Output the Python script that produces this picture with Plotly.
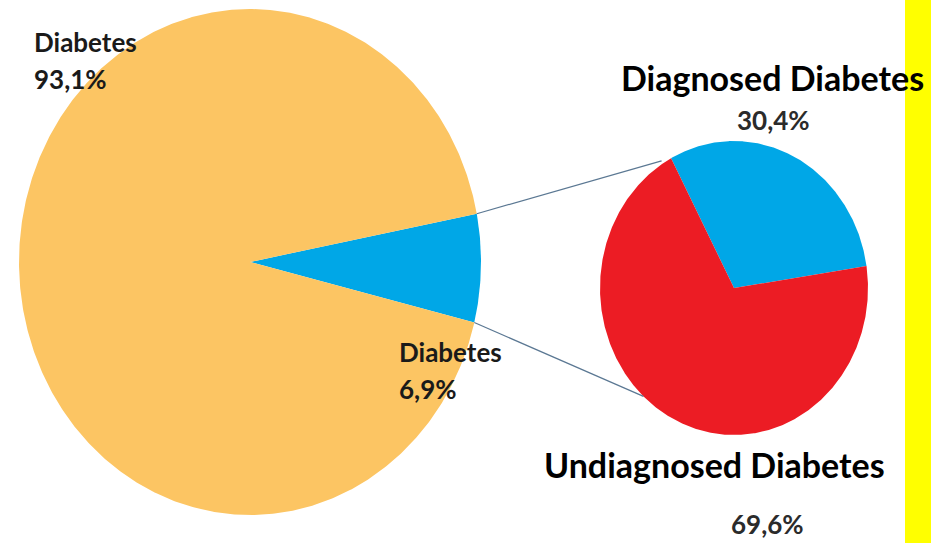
import math
import plotly.graph_objects as go

# Overall population split
main_labels = ["Diabetes", "Diabetes"]
main_values = [6.9, 93.1]          # share with diabetes, rest of population
main_colors = ["#00A7E7", "#FCC563"]

# Breakdown of the 6.9% slice
sub_labels = ["Diagnosed Diabetes", "Undiagnosed Diabetes"]
sub_values = [30.4, 69.6]
sub_colors = ["#00A7E7", "#EC1C24"]

W, H = 931, 543

# Pie geometry in pixel space: centre, horizontal and vertical radii, start angle
MAIN = dict(cx=250, cy=262, rx=231, ry=253, rot=79)
SUB = dict(cx=734, cy=288, rx=134, ry=147, rot=-28)


def pt(p, ang, scale=1.0):
    """Point on a pie outline; ang measured clockwise from 12 o'clock, degrees."""
    a = math.radians(ang)
    return (p["cx"] + scale * p["rx"] * math.sin(a),
            p["cy"] - scale * p["ry"] * math.cos(a))


def slices(p, values):
    total = sum(values)
    start = p["rot"]
    out = []
    for v in values:
        span = v / total * 360
        n = max(4, int(span * 2))
        xs, ys = [p["cx"]], [p["cy"]]
        for i in range(n + 1):
            x, y = pt(p, start + span * i / n)
            xs.append(x)
            ys.append(y)
        xs.append(p["cx"])
        ys.append(p["cy"])
        out.append((xs, ys, start, start + span))
        start += span
    return out


fig = go.Figure()

main_sl = slices(MAIN, main_values)
sub_sl = slices(SUB, sub_values)

for (xs, ys, _, _), lab, col, val in zip(main_sl, main_labels, main_colors, main_values):
    fig.add_trace(go.Scatter(x=xs, y=ys, mode="lines", fill="toself",
                             fillcolor=col, line=dict(width=0, color=col),
                             name=f"{lab} {val}%", hoveron="fills",
                             showlegend=False))

for (xs, ys, _, _), lab, col, val in zip(sub_sl, sub_labels, sub_colors, sub_values):
    fig.add_trace(go.Scatter(x=xs, y=ys, mode="lines", fill="toself",
                             fillcolor=col, line=dict(width=0, color=col),
                             name=f"{lab} {val}%", hoveron="fills",
                             showlegend=False))

# Connector lines from the highlighted slice to the breakdown pie
_, _, a_top, a_bot = main_sl[0]
p1 = pt(MAIN, a_top)
p2 = pt(MAIN, a_bot)
q1 = pt(SUB, SUB["rot"] - 4, 1.02)
q2 = pt(SUB, 222.5)
for a, b in [(p1, q1), (p2, q2)]:
    fig.add_trace(go.Scatter(x=[a[0], b[0]], y=[a[1], b[1]], mode="lines",
                             line=dict(color="#5B7893", width=1.2),
                             hoverinfo="skip", showlegend=False))

# Yellow band on the right edge
shapes = [dict(type="rect", xref="paper", yref="paper",
               x0=905 / W, x1=1, y0=0, y1=1,
               fillcolor="#FFFF00", line=dict(width=0), layer="below")]


def fmt(v):
    return f"{v:.1f}".replace(".", ",") + "%"


FONT = "Lato"
annotations = []


def note(text, x, y, size, color="#1a1a1a", xanchor="left"):
    annotations.append(dict(text=f"<b>{text}</b>", x=x, y=y, xref="x", yref="y",
                            xanchor=xanchor, yanchor="middle", showarrow=False,
                            align="left",
                            font=dict(family=FONT, size=size, color=color)))


note(main_labels[1], 32, 42, 26)
note(fmt(main_values[1]), 32, 79, 26)
note(main_labels[0], 397, 352, 26)
note(fmt(main_values[0]), 397, 389, 26)
note(sub_labels[0], 772, 77, 34, "#000000", "center")
note(fmt(sub_values[0]), 773, 120, 26, "#2b2b2b", "center")
note(sub_labels[1], 714, 464, 34, "#000000", "center")
note(fmt(sub_values[1]), 767, 524, 26, "#2b2b2b", "center")

fig.update_layout(
    width=W, height=H,
    margin=dict(l=0, r=0, t=0, b=0),
    paper_bgcolor="#FFFFFF", plot_bgcolor="rgba(0,0,0,0)",
    xaxis=dict(range=[0, W], visible=False, fixedrange=True),
    yaxis=dict(range=[H, 0], visible=False, fixedrange=True),
    shapes=shapes, annotations=annotations,
    showlegend=False,
)

fig.write_html("out.html")
